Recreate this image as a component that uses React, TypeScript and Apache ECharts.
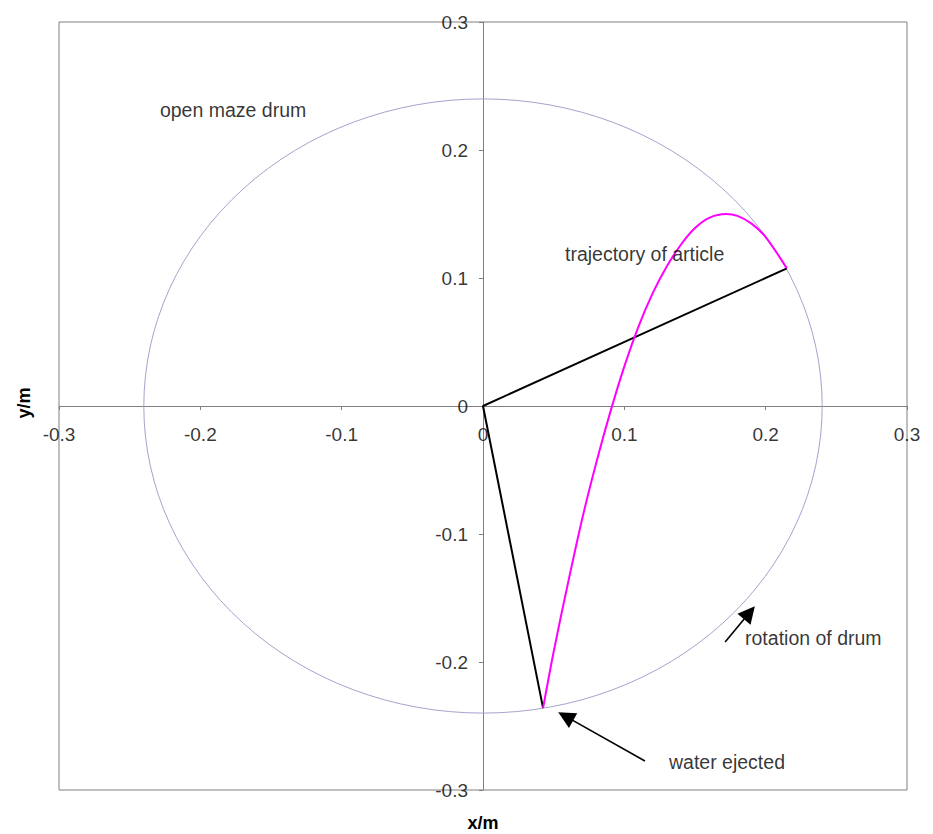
import React, { useEffect, useRef } from "react";
import * as echarts from "echarts";

const tickValues = [-0.3, -0.2, -0.1, 0, 0.1, 0.2, 0.3];
const tickLabels = ["-0.3", "-0.2", "-0.1", "0", "0.1", "0.2", "0.3"];
const drumRadius = 0.24;
const trajectoryX = [0.0425, 0.05, 0.06, 0.07, 0.08, 0.09, 0.1, 0.11, 0.12, 0.13, 0.14, 0.15, 0.16, 0.172, 0.18, 0.19, 0.2, 0.215];
const trajectoryY = [-0.236, -0.192, -0.139, -0.089, -0.045, -0.005, 0.031, 0.062, 0.088, 0.109, 0.126, 0.139, 0.147, 0.15, 0.1485, 0.1425, 0.132, 0.1075];
const radiusLineX = [0.215, 0, 0.0425];
const radiusLineY = [0.1075, 0, -0.236];
const arrowRotation = [[0.1713, -0.1844], [0.1885, -0.1615]];
const arrowWater = [[0.1146, -0.2773], [0.0585, -0.2425]];
const noteNames = ["open maze drum", "trajectory of article", "rotation of drum", "water ejected"];
const noteX = [-0.2286, 0.058, 0.1854, 0.1316];
const noteY = [0.231, 0.119, -0.181, -0.278];

const FONT = "'Liberation Sans', Arial, sans-serif";

export default function App() {
  const ref = useRef<HTMLDivElement>(null);
  useEffect(() => {
    if (!ref.current) return;
    const chart = echarts.init(ref.current, null, { renderer: "svg" });
    const axisCommon = {
      type: "value",
      min: -0.3,
      max: 0.3,
      interval: 0.1,
      axisLine: { onZero: true, lineStyle: { color: "#808080", width: 1 } },
      axisTick: { show: true, length: 4, lineStyle: { color: "#808080" } },
      splitLine: { show: false },
      axisLabel: { show: false },
    };
    const labelCommon = {
      show: true,
      formatter: "{b}",
      color: "#000",
      fontSize: 19,
      fontFamily: FONT,
    };
    chart.setOption({
      animation: false,
      grid: {
        left: 59,
        right: 26,
        top: 22,
        bottom: 44,
        show: true,
        borderColor: "#808080",
        borderWidth: 1,
      },
      xAxis: axisCommon,
      yAxis: axisCommon,
      graphic: [
        {
          type: "text",
          x: 483,
          y: 823,
          style: {
            text: "x/m",
            fontSize: 18,
            fontWeight: "bold",
            fontFamily: FONT,
            fill: "#000",
            textAlign: "center",
            textVerticalAlign: "middle",
          },
        },
        {
          type: "text",
          x: 24,
          y: 403,
          rotation: Math.PI / 2,
          style: {
            text: "y/m",
            fontSize: 18,
            fontWeight: "bold",
            fontFamily: FONT,
            fill: "#000",
            textAlign: "center",
            textVerticalAlign: "middle",
          },
        },
      ],
      series: [
        {
          type: "custom",
          data: [[0, 0, drumRadius]],
          silent: true,
          renderItem: (params: any, api: any) => {
            const c = api.coord([api.value(0), api.value(1)]);
            const r = api.value(2);
            const p = api.coord([r, r]);
            const rx = p[0] - c[0];
            const ry = c[1] - p[1];
            const d = `M ${c[0] - rx} ${c[1]} A ${rx} ${ry} 0 1 0 ${c[0] + rx} ${c[1]} A ${rx} ${ry} 0 1 0 ${c[0] - rx} ${c[1]} Z`;
            return {
              type: "path",
              shape: { pathData: d },
              style: { fill: "none", stroke: "#a4a4cc", lineWidth: 1 },
            };
          },
          z: 1,
        },
        {
          type: "line",
          data: radiusLineX.map((x, i) => [x, radiusLineY[i]]),
          showSymbol: false,
          lineStyle: { color: "#000", width: 2 },
          z: 3,
        },
        {
          type: "line",
          data: trajectoryX.map((x, i) => [x, trajectoryY[i]]),
          showSymbol: false,
          smooth: 0.3,
          lineStyle: { color: "#ff00ff", width: 2 },
          z: 4,
        },
        {
          type: "lines",
          coordinateSystem: "cartesian2d",
          data: [{ coords: arrowRotation }, { coords: arrowWater }],
          symbol: ["none", "triangle"],
          symbolSize: [0, 17],
          lineStyle: { color: "#000", width: 1.6, opacity: 1 },
          itemStyle: { color: "#000" },
          z: 5,
        },
        {
          type: "scatter",
          symbolSize: 0,
          silent: true,
          data: tickValues.map((v, i) => ({ name: tickLabels[i], value: [v, 0] })),
          label: { ...labelCommon, position: "bottom", distance: 19 },
          z: 6,
        },
        {
          type: "scatter",
          symbolSize: 0,
          silent: true,
          data: tickValues.map((v, i) => ({ name: tickLabels[i], value: [0, v] })),
          label: { ...labelCommon, position: "left", distance: 15 },
          z: 6,
        },
        {
          type: "scatter",
          symbolSize: 0,
          silent: true,
          data: noteNames.map((n, i) => ({ name: n, value: [noteX[i], noteY[i]] })),
          label: { ...labelCommon, fontSize: 19.5, position: "right", distance: 0 },
          z: 6,
        },
      ],
    });
    return () => chart.dispose();
  }, []);
  return (
    <div
      ref={ref}
      style={{ position: "fixed", left: 0, top: 0, width: 933, height: 834, background: "#fff" }}
    />
  );
}
